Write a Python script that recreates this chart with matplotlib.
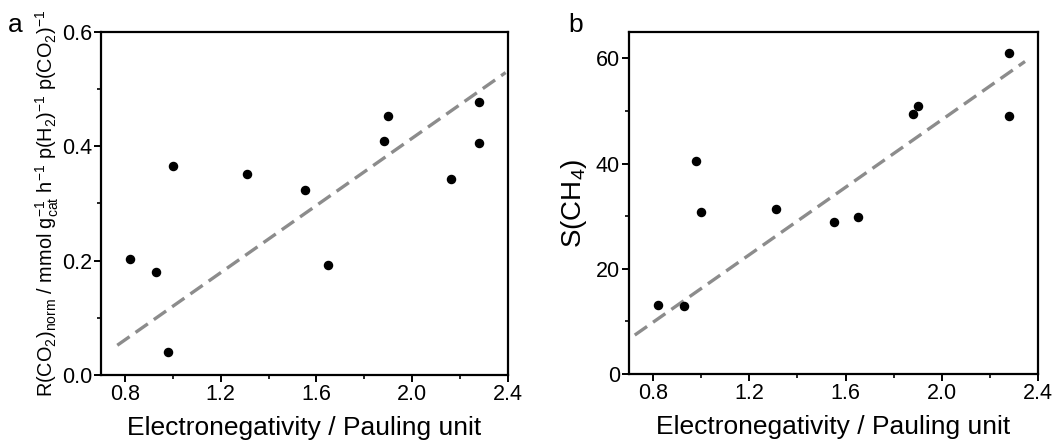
import numpy as np
import matplotlib
matplotlib.use("Agg")
from matplotlib import pyplot as plt
from matplotlib.ticker import MultipleLocator

plt.rcParams['font.family'] = ['Liberation Sans', 'DejaVu Sans']
plt.rcParams['mathtext.fontset'] = 'custom'
plt.rcParams['mathtext.rm'] = 'Liberation Sans'
plt.rcParams['mathtext.it'] = 'Liberation Sans'
plt.rcParams['mathtext.default'] = 'regular'

# electronegativity of the promoters
en_a = [0.82, 0.93, 0.98, 1.00, 1.31, 1.55, 1.65, 1.88, 1.90, 2.16, 2.28, 2.28]
rate = [0.203, 0.181, 0.041, 0.365, 0.352, 0.323, 0.192, 0.410, 0.453, 0.342, 0.477, 0.405]

en_b = [0.82, 0.93, 0.98, 1.00, 1.31, 1.55, 1.65, 1.88, 1.90, 2.28, 2.28]
sel_ch4 = [13.1, 12.9, 40.5, 30.8, 31.3, 28.8, 29.9, 49.5, 51.0, 61.0, 49.0]

# guide-to-the-eye trend lines (end points)
trend_a_x = [0.768, 2.39]
trend_a_y = [0.052, 0.529]
trend_b_x = [0.724, 2.346]
trend_b_y = [7.4, 59.4]

fig = plt.figure(figsize=(10.54, 4.44), dpi=100)
ax1 = fig.add_axes([101/1054, 1-375/444, 407/1054, 343/444])
ax2 = fig.add_axes([629/1054, 1-374/444, 409/1054, 342/444])

def style(ax):
    for s in ax.spines.values():
        s.set_linewidth(1.6)
    ax.tick_params(which='major', direction='out', length=5, width=1.4, labelsize=15.5, pad=1.5,
                   top=False, right=False)
    ax.tick_params(which='minor', direction='out', length=3, width=1.2, top=False, right=False)
    ax.set_xlim(0.7, 2.4)
    ax.xaxis.set_minor_locator(MultipleLocator(0.2))
    ax.set_xticks([0.8, 1.2, 1.6, 2.0, 2.4])
    ax.set_xticklabels(['0.8', '1.2', '1.6', '2.0', '2.4'])
    ax.set_xlabel('Electronegativity / Pauling unit', fontsize=19, labelpad=8)

ax1.plot(trend_a_x, trend_a_y, color='#8c8c8c', lw=2.4, dashes=(4.5, 2.2))
ax1.scatter(en_a, rate, s=34, color='black', zorder=3)
style(ax1)
ax1.set_ylim(0, 0.6)
ax1.yaxis.set_minor_locator(MultipleLocator(0.1))
ax1.set_yticks([0, 0.2, 0.4, 0.6])
ax1.set_yticklabels(['0.0', '0.2', '0.4', '0.6'])
ax1.set_ylabel(r'R(CO$_2$)$_{norm}$ / mmol g$_{cat}^{-1}$ h$^{-1}$ p(H$_2$)$^{-1}$ p(CO$_2$)$^{-1}$',
               fontsize=14.3, labelpad=0.5)

ax2.plot(trend_b_x, trend_b_y, color='#8c8c8c', lw=2.4, dashes=(4.5, 2.2))
ax2.scatter(en_b, sel_ch4, s=34, color='black', zorder=3)
style(ax2)
ax2.set_ylim(0, 65)
ax2.yaxis.set_minor_locator(MultipleLocator(10))
ax2.set_yticks([0, 20, 40, 60])
ax2.set_ylabel(r'S(CH$_4$)', fontsize=20, labelpad=5)

fig.text(15/1054, 1-25/444, 'a', fontsize=19, ha='center', va='center')
fig.text(576/1054, 1-25/444, 'b', fontsize=19, ha='center', va='center')

fig.savefig('out.png', dpi=100)
